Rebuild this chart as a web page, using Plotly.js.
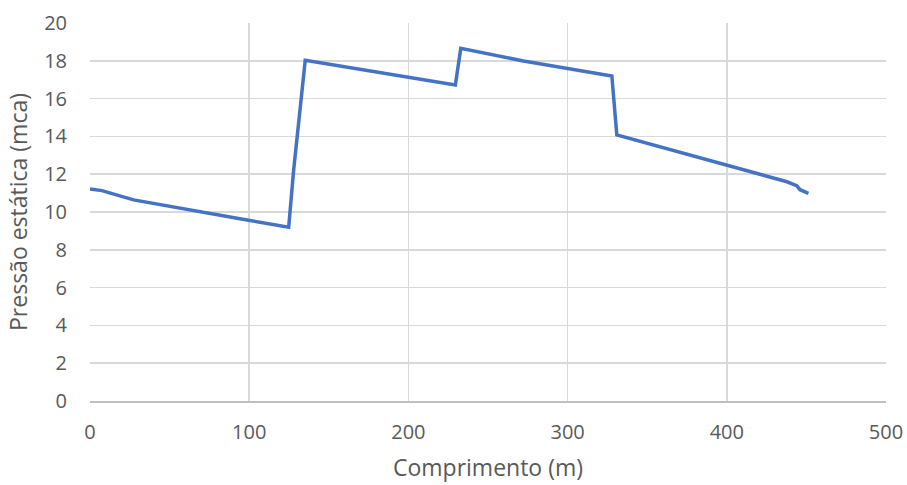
<!DOCTYPE html>
<html><head><meta charset="utf-8">
<script src="https://cdn.plot.ly/plotly-3.0.1.min.js"></script>
<style>html,body{margin:0;padding:0;background:#fff}#c{width:907px;height:485px}</style>
</head><body><div id="c"></div>
<script>
const comprimento = [0, 7.5, 27.4, 42, 98.6, 124.8, 127.9, 135.2, 229.5, 232.9, 272.3, 327.8, 330.9, 437.8, 443.9, 446, 447.3, 451.3];
const pressao = [11.22, 11.13, 10.64, 10.43, 9.58, 9.19, 12.2, 18.03, 16.72, 18.66, 17.99, 17.2, 14.08, 11.6, 11.39, 11.18, 11.13, 10.99];
const xTicks = [0, 100, 200, 300, 400, 500];
const yTicks = [0, 2, 4, 6, 8, 10, 12, 14, 16, 18, 20];

const font = '"Open Sans", Lato, sans-serif';
Plotly.newPlot('c', [{
  x: comprimento, y: pressao, type: 'scatter', mode: 'lines',
  line: {color: '#4472C4', width: 3.5}, hoverinfo: 'skip'
}], {
  width: 907, height: 485,
  margin: {l: 90, r: 21, t: 23, b: 84},
  paper_bgcolor: '#fff', plot_bgcolor: '#fff',
  showlegend: false,
  font: {family: font, color: '#595959', size: 20},
  xaxis: {
    range: [0, 500], tickvals: xTicks, ticktext: xTicks.map(String),
    showgrid: true, gridcolor: '#d9d9d9', gridwidth: 1.5,
    zeroline: false, showline: true, linecolor: '#bfbfbf', linewidth: 1.5,
    ticks: '', ticklabelstandoff: 12,
    tickfont: {size: 20, color: '#595959', family: font},
    title: {text: 'Comprimento (m)', font: {size: 23, color: '#595959', family: font}, standoff: 16}
  },
  yaxis: {
    range: [0, 20], tickvals: yTicks, ticktext: yTicks.map(String),
    showgrid: true, gridcolor: '#d9d9d9', gridwidth: 1.5,
    zeroline: false, showline: false, ticks: '', ticklabelstandoff: 22,
    tickfont: {size: 20, color: '#595959', family: font},
    title: {text: 'Pressão estática (mca)', font: {size: 23, color: '#595959', family: font}, standoff: 10}
  }
}, {displayModeBar: false, staticPlot: true});
</script></body></html>
